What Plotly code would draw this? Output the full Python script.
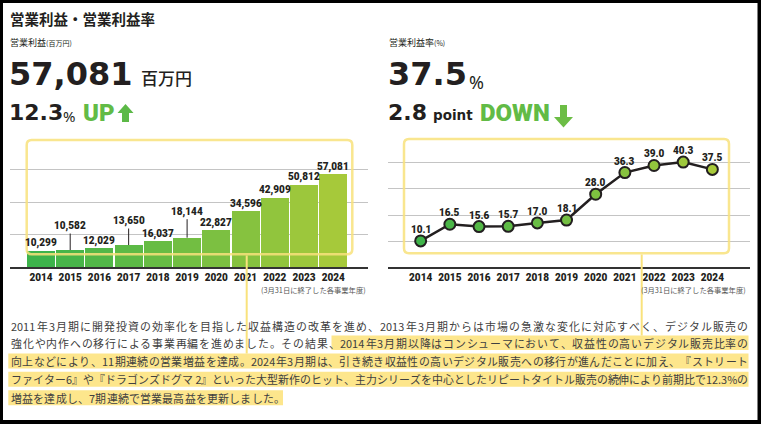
import plotly.graph_objects as go

W, H = 761, 424

# ---------------- data ----------------
years = [2014, 2015, 2016, 2017, 2018, 2019, 2020, 2021, 2022, 2023, 2024]
op_income = [10299, 10582, 12029, 13650, 16037, 18144, 22827, 34596, 42909, 50812, 57081]
op_margin = [10.1, 16.5, 15.6, 15.7, 17.0, 18.1, 28.0, 36.3, 39.0, 40.3, 37.5]
raised_labels = {2015: 24, 2017: 24, 2019: 26}   # labels drawn with a leader line

title_text = "営業利益・営業利益率"
left_caption = "営業利益"
left_unit = "(百万円)"
right_caption = "営業利益率"
right_unit = "(%)"
left_big = "57,081"
left_big_unit = "百万円"
left_change = "12.3"
right_big = "37.5"
right_change = "2.8"
note_text = "(3月31日に終了した各事業年度)"

para_lines = [
    "2011年3月期に開発投資の効率化を目指した収益構造の改革を進め、2013年3月期からは市場の急激な変化に対応すべく、デジタル販売の",
    "強化や内作への移行による事業再編を進めました。その結果、2014年3月期以降はコンシューマにおいて、収益性の高いデジタル販売比率の",
    "向上などにより、11期連続の営業増益を達成。2024年3月期は、引き続き収益性の高いデジタル販売への移行が進んだことに加え、『ストリート",
    "ファイター6』や『ドラゴンズドグマ 2』といった大型新作のヒット、主力シリーズを中心としたリピートタイトル販売の続伸により前期比で12.3%の",
    "増益を達成し、7期連続で営業最高益を更新しました。",
]

# ---------------- helpers ----------------
def X(px):
    return px / W

def Y(py):
    return 1 - py / H

DARK = "#231f20"
YEL = "#f9e27c"
HIL = "#fde68c"
GRID = "#c4c4c4"

def lerp_color(c0, c1, t):
    a = [int(c0[i:i + 2], 16) for i in (1, 3, 5)]
    b = [int(c1[i:i + 2], 16) for i in (1, 3, 5)]
    return "#" + "".join(f"{round(a[k] + (b[k] - a[k]) * t):02x}" for k in range(3))

n = len(years)
bar_colors = [lerp_color("#3db34b", "#a6c93a", i / (n - 1)) for i in range(n)]
dot_colors = [lerp_color("#3fb44a", "#a8ca3a", i / (n - 1)) for i in range(n)]

fig = go.Figure()

fig.add_trace(go.Bar(
    x=years, y=op_income, width=0.955,
    marker=dict(color=bar_colors, line=dict(width=0)),
    xaxis="x", yaxis="y", hoverinfo="skip", showlegend=False,
))
fig.add_trace(go.Scatter(
    x=years, y=op_margin, mode="lines+markers",
    line=dict(color=DARK, width=2.5),
    marker=dict(size=11, color=dot_colors, line=dict(color=DARK, width=2)),
    xaxis="x2", yaxis="y2", hoverinfo="skip", showlegend=False,
))

ydom = [Y(267.3), Y(136.7)]
tickfont = dict(family="Roboto", size=10, color=DARK, weight=900)

fig.update_layout(
    width=W, height=H, margin=dict(l=0, r=0, t=0, b=0),
    paper_bgcolor="#000000", plot_bgcolor="rgba(0,0,0,0)",
    bargap=0,
    xaxis=dict(domain=[X(10), X(368)], range=[2012.94, 2025.19],
               tickvals=years, ticktext=[str(y) for y in years], tickfont=tickfont,
               showgrid=False, zeroline=False, showline=True, linecolor="#333333", linewidth=1.5,
               ticks="", fixedrange=True),
    yaxis=dict(domain=ydom, range=[0, 80040], dtick=20000, showticklabels=False,
               showgrid=True, gridcolor=GRID, gridwidth=1, zeroline=False, fixedrange=True),
    xaxis2=dict(domain=[X(388), X(750)], range=[2012.88, 2025.29],
                tickvals=years, ticktext=[str(y) for y in years], tickfont=tickfont,
                showgrid=False, zeroline=False, showline=True, linecolor="#333333", linewidth=1.5,
                ticks="", fixedrange=True, anchor="y2"),
    yaxis2=dict(domain=ydom, range=[0, 50.03], dtick=10, showticklabels=False,
                showgrid=True, gridcolor=GRID, gridwidth=1, zeroline=False, fixedrange=True,
                anchor="x2"),
)

shapes = []
# white page inside black frame
shapes.append(dict(type="rect", xref="paper", yref="paper", x0=X(3), x1=X(757.5), y0=Y(420), y1=Y(3),
                   fillcolor="white", line=dict(width=0), layer="below"))

def rounded_rect(x0, y0, x1, y1, r):
    pts = (f"M {X(x0 + r)},{Y(y0)} L {X(x1 - r)},{Y(y0)} Q {X(x1)},{Y(y0)} {X(x1)},{Y(y0 + r)} "
           f"L {X(x1)},{Y(y1 - r)} Q {X(x1)},{Y(y1)} {X(x1 - r)},{Y(y1)} "
           f"L {X(x0 + r)},{Y(y1)} Q {X(x0)},{Y(y1)} {X(x0)},{Y(y1 - r)} "
           f"L {X(x0)},{Y(y0 + r)} Q {X(x0)},{Y(y0)} {X(x0 + r)},{Y(y0)} Z")
    return pts

# highlight bars behind paragraph text
for (x0, x1, y0, y1) in [(331.5, 748.5, 335.5, 350.0), (8.3, 748.5, 353.5, 368.5),
                         (8.3, 748.5, 371.8, 386.8), (8.3, 283.0, 390.2, 405.2)]:
    shapes.append(dict(type="rect", xref="paper", yref="paper", x0=X(x0), x1=X(x1), y0=Y(y1), y1=Y(y0),
                       fillcolor=HIL, line=dict(width=0), layer="below"))

# yellow callout boxes and connectors
shapes.append(dict(type="path", xref="paper", yref="paper", path=rounded_rect(26.7, 140.0, 352.3, 254.3, 5),
                   line=dict(color=YEL, width=2.5), opacity=0.85, layer="above"))
shapes.append(dict(type="path", xref="paper", yref="paper", path=rounded_rect(404.0, 139.0, 729.0, 253.3, 5),
                   line=dict(color=YEL, width=2.5), opacity=0.85, layer="above"))
shapes.append(dict(type="line", xref="paper", yref="paper", x0=X(246.7), x1=X(246.7), y0=Y(255.5), y1=Y(353.5),
                   line=dict(color=YEL, width=2), layer="above"))
shapes.append(dict(type="line", xref="paper", yref="paper", x0=X(641.7), x1=X(641.7), y0=Y(254.5), y1=Y(335.5),
                   line=dict(color=YEL, width=2), layer="above"))

# arrows (icons)
def poly(points):
    return "M " + " L ".join(f"{X(a)},{Y(b)}" for a, b in points) + " Z"

shapes.append(dict(type="path", xref="paper", yref="paper",
                   path=poly([(125.5, 104), (133.5, 113), (129, 113), (129, 122), (122, 122), (122, 113), (117.5, 113)]),
                   fillcolor="#5cb947", line=dict(width=0)))
shapes.append(dict(type="path", xref="paper", yref="paper",
                   path=poly([(560, 105), (567, 105), (567, 117), (573, 117), (563.5, 127.5), (554, 117), (560, 117)]),
                   fillcolor="#6cbd45", line=dict(width=0)))

fig.update_layout(shapes=shapes)

ann = []

def txt(x, y, text, size, family="Noto Sans CJK JP", color=DARK, weight=None, xanchor="left", yanchor="middle"):
    f = dict(family=family, size=size, color=color)
    if weight:
        f["weight"] = weight
    ann.append(dict(x=X(x), y=Y(y), xref="paper", yref="paper", text=text, showarrow=False,
                    xanchor=xanchor, yanchor=yanchor, font=f, borderpad=0))

HEAVY = "DejaVu Sans"
txt(8.5, 19, title_text, 14.5, weight=700)
txt(9, 42, f"{left_caption}<span style='font-size:7px'>{left_unit}</span>", 9)
txt(388, 42, f"{right_caption}<span style='font-size:7px'>{right_unit}</span>", 9)

txt(7.5, 74.5, left_big, 32, family=HEAVY, weight=700)
txt(140, 77.5, left_big_unit, 17, weight=500)
txt(7.5, 112.5, left_change, 22, family=HEAVY, weight=700)
txt(62, 116, "%", 15, family="Noto Sans")
txt(82, 112.5, "UP", 24, family="Roboto", weight=900, color="#62bb46")

txt(387, 74.5, right_big, 32, family=HEAVY, weight=700)
txt(468.5, 81.5, "%", 18, family="Noto Sans")
txt(387, 112.5, right_change, 22, family=HEAVY, weight=700)
txt(432, 115.5, "point", 13.5, family=HEAVY, weight=700)
txt(479, 112.5, "DOWN", 24, family="Roboto", weight=900, color="#62bb46")

txt(367, 289.5, note_text, 7.3, color="#555555", xanchor="right")
txt(747, 289.5, note_text, 7.3, color="#555555", xanchor="right")

# bar value labels
for yr, v in zip(years, op_income):
    lab = f"{v:,}"
    if yr in raised_labels:
        ann.append(dict(x=yr, y=v, xref="x", yref="y", text=lab, showarrow=True, arrowhead=0,
                        arrowwidth=1, arrowcolor=DARK, ax=0, ay=-raised_labels[yr], standoff=0,
                        font=dict(family="Roboto", size=10, color=DARK, weight=900)))
    else:
        ann.append(dict(x=yr, y=v, xref="x", yref="y", text=lab, showarrow=False, yanchor="bottom",
                        yshift=-1, font=dict(family="Roboto", size=10, color=DARK, weight=900)))

# line value labels
for yr, v in zip(years, op_margin):
    ann.append(dict(x=yr, y=v, xref="x2", yref="y2", text=f"{v:.1f}", showarrow=False, yanchor="bottom",
                    yshift=4, font=dict(family="Roboto", size=10, color=DARK, weight=900)))

# paragraph, justified token by token
PF = 10.9

def ascii_w(s):
    w = 0
    for ch in s:
        if ch.isdigit():
            w += 0.56
        elif ch == ".":
            w += 0.27
        elif ch == "%":
            w += 0.87
        elif ch == " ":
            w += 0.224
        else:
            w += 0.55
    return w

def tokenize(line):
    toks, buf = [], ""
    for ch in line:
        if ord(ch) < 128:
            buf += ch
        else:
            if buf:
                toks.append(buf)
                buf = ""
            toks.append(ch)
    if buf:
        toks.append(buf)
    return toks

def tok_w(t):
    if ord(t[0]) < 128:
        return ascii_w(t)
    return 1.0

line_y = [326.0, 343.3, 361.0, 379.3, 397.5]
for i, line in enumerate(para_lines):
    toks = tokenize(line)
    widths = [tok_w(t) * PF for t in toks]
    natural = sum(widths)
    if i < len(para_lines) - 1:
        extra = max(0.0, (747.0 - 10.0 - natural) / (len(toks) - 1))
    else:
        extra = 0.25
    x = 10.0
    for t, w in zip(toks, widths):
        ann.append(dict(x=X(x), y=Y(line_y[i]), xref="paper", yref="paper", text=t.replace(" ", "&nbsp;"),
                        showarrow=False, xanchor="left", yanchor="middle", borderpad=0,
                        font=dict(family="Noto Sans CJK JP", size=PF, color="#404040")))
        x += w + extra

fig.update_layout(annotations=ann)
fig.write_html("out.html")
